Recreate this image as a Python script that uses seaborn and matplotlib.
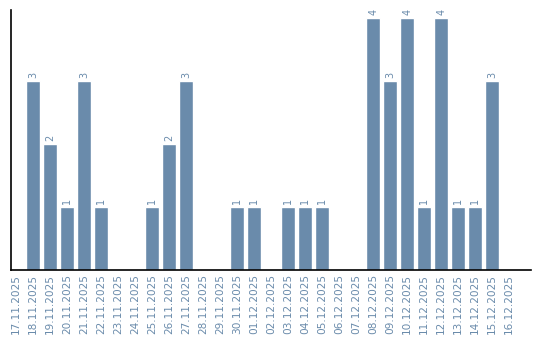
import matplotlib
matplotlib.use("Agg")
import matplotlib.pyplot as plt
import seaborn as sns
import pandas as pd

dates = ["17.11.2025", "18.11.2025", "19.11.2025", "20.11.2025", "21.11.2025",
         "22.11.2025", "23.11.2025", "24.11.2025", "25.11.2025", "26.11.2025",
         "27.11.2025", "28.11.2025", "29.11.2025", "30.11.2025", "01.12.2025",
         "02.12.2025", "03.12.2025", "04.12.2025", "05.12.2025", "06.12.2025",
         "07.12.2025", "08.12.2025", "09.12.2025", "10.12.2025", "11.12.2025",
         "12.12.2025", "13.12.2025", "14.12.2025", "15.12.2025", "16.12.2025"]
counts = [0, 3, 2, 1, 3, 1, 0, 0, 1, 2, 3, 0, 0, 1, 1,
          0, 1, 1, 1, 0, 0, 4, 3, 4, 1, 4, 1, 1, 3, 0]

bar_color = "#6a8bab"
text_color = "#6a8bab"

sns.set_style("white")
plt.rcParams['font.family'] = ['DejaVu Sans']

df = pd.DataFrame({"date": dates, "count": counts})

fig = plt.figure(figsize=(5.4, 3.4), dpi=100)
ax = fig.add_axes([10.5 / 540, 70 / 340, 520 / 540, 260 / 340])
sns.barplot(data=df, x="date", y="count", color=bar_color, saturation=1,
            width=0.82, ax=ax)

for i, v in enumerate(counts):
    if v > 0:
        ax.text(i, v + 0.04, str(v), rotation=90, ha="center", va="bottom",
                fontsize=7, color=text_color)

ax.set_xlim(-0.33, 30.25)
ax.set_ylim(0, 4.12)
ax.set_xlabel("")
ax.set_ylabel("")
ax.set_yticks([])
ax.tick_params(axis="x", length=0, pad=3, labelsize=7.6, labelcolor=text_color,
               rotation=90)
for s in ["top", "right"]:
    ax.spines[s].set_visible(False)
for s in ["left", "bottom"]:
    ax.spines[s].set_color("black")
    ax.spines[s].set_linewidth(1.2)

fig.savefig("out.png", dpi=100)
